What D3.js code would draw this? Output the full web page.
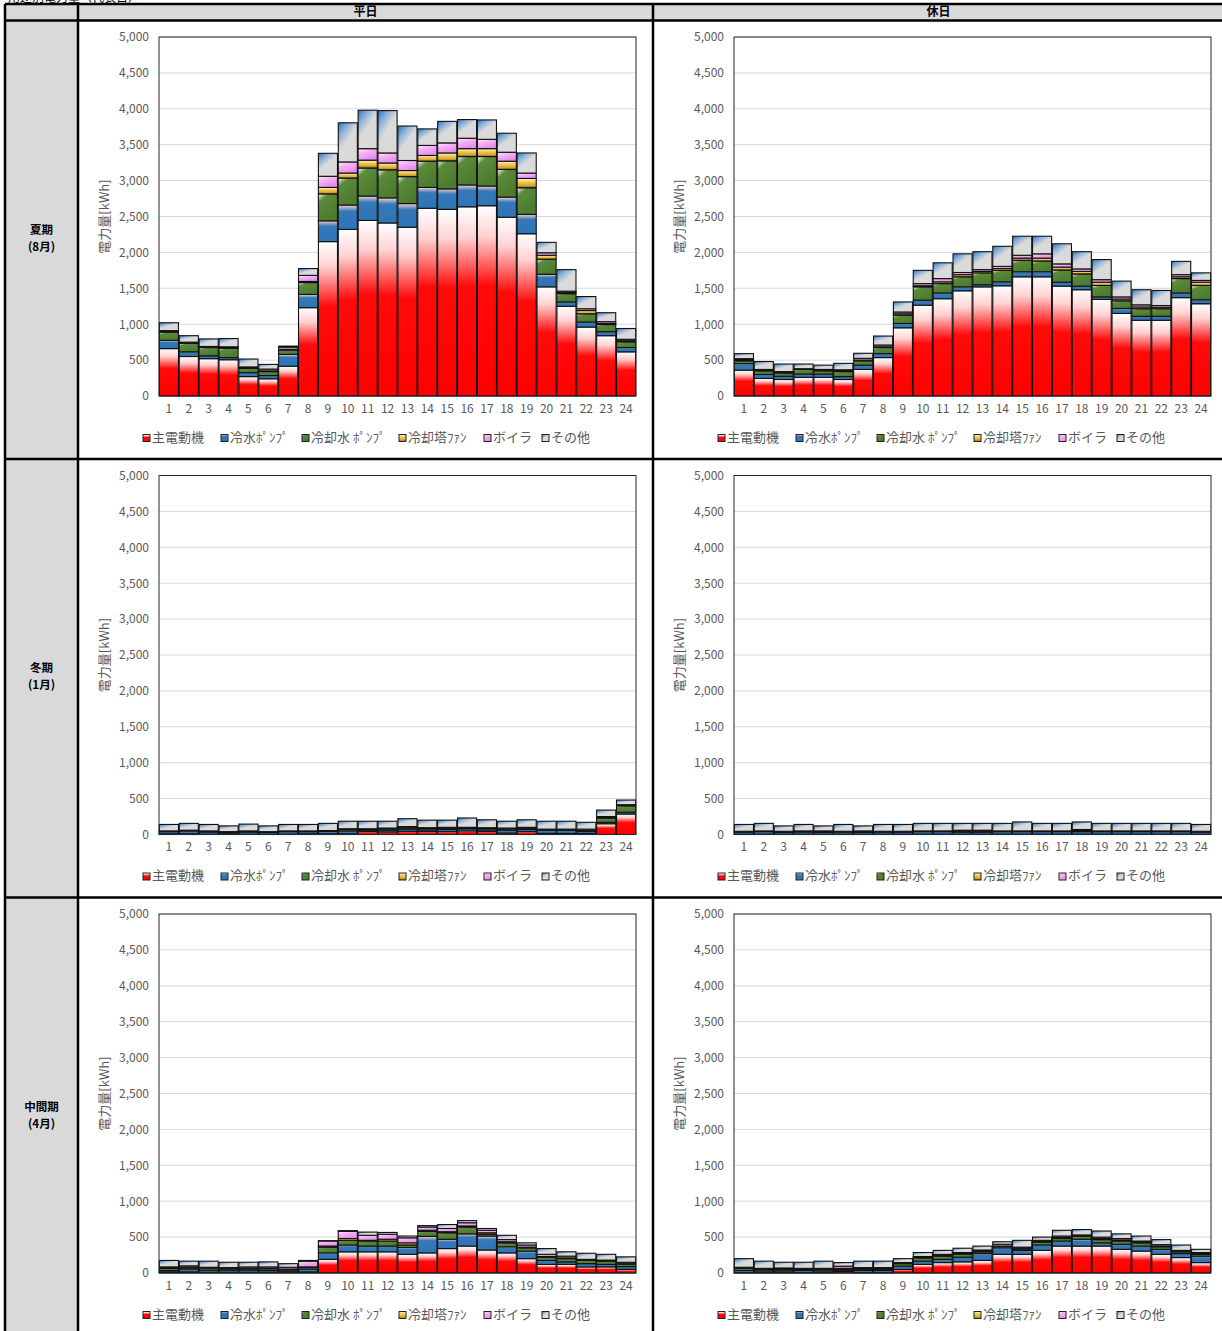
<!DOCTYPE html>
<html>
<head>
<meta charset="utf-8">
<script src="https://cdn.jsdelivr.net/npm/d3@7"></script>
<style>
  html, body { margin: 0; padding: 0; background: #fff; overflow: hidden; }
  svg { display: block; font-family: "Noto Sans CJK JP", "Noto Sans", sans-serif; }
</style>
</head>
<body>
<svg id="chart" width="1222" height="1331"></svg>
<script>
// ---- data ---------------------------------------------------------------
const hourLabels = ["1","2","3","4","5","6","7","8","9","10","11","12",
                    "13","14","15","16","17","18","19","20","21","22","23","24"];
const seriesNames = ["主電動機", "冷水ﾎﾟﾝﾌﾟ", "冷却水 ﾎﾟﾝﾌﾟ", "冷却塔ﾌｧﾝ", "ボイラ", "その他"];
const yTickValues = [0, 500, 1000, 1500, 2000, 2500, 3000, 3500, 4000, 4500, 5000];
const seasonNames = ["夏期", "冬期", "中間期"];
const seasonMonths = ["(8月)", "(1月)", "(4月)"];
const dayTypeNames = ["平日", "休日"];
const pageTitle = "用途別電力量（代表日）";

// each panel: one row per series, in the order of seriesNames, kWh per hour 1..24
const summerWeekday = [
  [660,550,520,505,270,240,415,1230,2150,2320,2445,2410,2350,2615,2600,2635,2650,2490,2260,1520,1250,960,840,615],
  [115,65,40,30,55,45,165,185,290,340,340,350,330,290,285,305,275,280,270,175,60,70,55,60],
  [115,120,115,130,60,55,60,165,375,375,390,390,375,365,390,395,410,385,370,210,115,115,100,80],
  [10,5,5,10,5,10,10,15,90,70,110,95,85,80,110,110,110,115,130,55,15,45,15,15],
  [10,10,10,10,15,25,30,85,155,155,160,140,140,140,140,145,130,125,75,35,20,25,25,20],
  [110,90,105,115,110,65,15,95,320,545,535,590,480,230,300,260,270,265,280,145,300,170,125,150]
];
const summerHoliday = [
  [360,245,230,260,260,230,370,535,950,1265,1355,1465,1520,1535,1660,1660,1530,1480,1345,1150,1055,1055,1370,1285],
  [90,55,45,45,45,40,60,55,60,70,80,55,30,55,70,70,55,50,35,70,55,55,65,55],
  [40,50,45,65,45,70,60,85,115,185,130,140,165,160,160,150,170,170,160,105,105,105,200,200],
  [15,10,10,5,10,10,10,10,20,15,25,30,20,25,30,40,40,35,45,25,25,20,25,45],
  [15,10,10,5,10,15,25,25,25,30,45,30,25,30,40,60,45,35,35,30,30,25,30,25],
  [70,110,105,65,60,90,70,125,140,185,220,260,250,280,265,245,280,240,280,220,210,210,185,105]
];
const winterWeekday = [
  [10,10,5,10,5,5,5,10,10,10,40,35,45,40,40,50,40,20,40,15,15,15,150,285],
  [30,40,30,20,30,25,35,30,35,40,20,25,30,25,30,30,25,40,30,45,45,30,20,25],
  [5,5,10,5,10,5,5,5,5,20,10,20,20,20,20,10,20,20,20,10,10,10,60,90],
  [0,0,0,0,0,0,0,0,0,5,0,5,5,5,5,5,5,5,5,0,0,0,5,5],
  [5,5,5,5,5,5,5,5,5,5,10,5,10,5,5,5,5,5,5,5,5,20,15,10],
  [90,95,90,80,95,80,90,90,100,105,105,95,110,105,100,130,110,95,105,110,110,95,90,65]
];
const winterHoliday = [
  [5,5,5,5,5,5,5,5,5,5,5,5,5,5,5,5,5,5,5,5,5,5,5,5],
  [30,35,25,30,25,30,25,30,30,35,35,30,30,35,35,35,35,35,35,35,35,35,35,30],
  [5,5,5,10,5,5,15,5,5,5,5,5,5,5,5,5,5,10,5,5,5,5,5,5],
  [0,0,0,0,0,0,0,0,0,0,0,5,5,0,0,0,0,5,0,0,0,0,0,0],
  [5,5,10,5,15,5,5,5,5,5,5,15,15,5,5,5,5,15,5,5,5,5,5,5],
  [95,105,75,90,70,95,70,95,95,105,105,95,95,105,125,105,105,105,105,105,105,105,105,95]
];
const springWeekday = [
  [15,15,10,10,10,10,10,15,190,295,295,295,260,280,340,375,320,280,200,120,120,85,85,50],
  [20,40,30,30,30,25,20,40,90,95,80,80,95,230,130,170,195,85,105,55,35,45,35,40],
  [30,20,30,20,20,25,20,25,80,65,70,70,35,70,90,95,25,55,45,45,45,45,45,35],
  [5,5,5,5,5,5,5,5,15,25,10,25,30,15,15,15,20,15,10,10,10,5,5,5],
  [15,20,5,10,20,20,25,80,70,100,70,70,70,45,45,45,35,30,30,30,25,10,10,20],
  [90,65,85,75,65,70,50,10,5,10,45,25,25,20,55,30,25,60,30,80,60,85,80,75]
];
const springHoliday = [
  [5,5,5,5,5,20,5,5,50,120,145,155,175,260,260,315,375,375,375,330,305,260,215,145],
  [30,25,25,30,25,20,30,30,45,45,45,65,95,90,55,75,70,95,45,70,70,70,55,90],
  [30,20,20,15,20,15,20,20,35,45,45,45,25,20,20,40,35,45,45,45,45,35,25,25],
  [5,5,5,5,5,10,5,5,5,5,10,5,10,5,10,10,15,5,15,15,10,10,10,10],
  [10,10,15,10,10,30,15,15,10,15,15,15,15,25,15,15,20,10,20,20,15,20,10,15],
  [120,100,80,85,100,50,90,90,55,55,55,60,55,35,95,45,80,75,85,65,70,70,75,45]
];

const panels = [
  [summerWeekday, summerHoliday],
  [winterWeekday, winterHoliday],
  [springWeekday, springHoliday]
];

// ---- layout -------------------------------------------------------------
const colX = [5, 78, 653, 1224];          // label column | weekday | holiday
const headerTop = 4, headerBottom = 20.5;
const rowTops = [20.5, 459, 897.5];
const plotDX = 81, plotW = 477, plotDY = 16.5, plotH = 359;
const textGray = "#595959";

const svg = d3.select("#chart");
const defs = svg.append("defs");

// fills for each series (shaded like office chart presets)
const fillSpecs = [
  { x2: 0,   y2: 1, stops: [[0, "#ffffff"], [0.16, "#ffd2d2"], [0.42, "#ff0a0a"], [1, "#ff0000"]] },
  { x2: 0,   y2: 1, stops: [[0, "#f6d0d0"], [0.26, "#3478b8"], [1, "#2e75b6"]] },
  { x2: 0.6, y2: 1, stops: [[0, "#ffffff"], [0.25, "#5a8a3a"], [1, "#4c7a2e"]] },
  { x2: 0,   y2: 1, stops: [[0, "#fff8dc"], [0.35, "#f2cc5a"], [0.75, "#d9a832"], [1, "#8a6210"]] },
  { x2: 0.5, y2: 1, stops: [[0, "#fff0ff"], [0.4, "#f6b2f6"], [1, "#e48ceb"]] },
  { x2: 0.7, y2: 1, stops: [[0, "#2e75b6"], [0.28, "#8fb4da"], [0.52, "#dadada"], [1, "#dadada"]] }
];
fillSpecs.forEach((s, i) => {
  const g = defs.append("linearGradient").attr("id", "fill" + i)
    .attr("x1", 0).attr("y1", 0).attr("x2", s.x2).attr("y2", s.y2);
  s.stops.forEach(([o, c]) => g.append("stop").attr("offset", o).attr("stop-color", c));
});

// page title (runs off the top edge)
svg.append("text").attr("x", 8).attr("y", 1.5)
  .attr("font-size", 12).attr("fill", "#000").text(pageTitle);

// table backgrounds
svg.append("rect").attr("x", colX[0]).attr("y", headerTop)
  .attr("width", colX[3] - colX[0]).attr("height", headerBottom - headerTop).attr("fill", "#d9d9d9");
svg.append("rect").attr("x", colX[0]).attr("y", headerBottom)
  .attr("width", colX[1] - colX[0]).attr("height", 1331 - headerBottom).attr("fill", "#d9d9d9");

// header labels
dayTypeNames.forEach((t, c) => {
  svg.append("text").attr("x", (colX[c + 1] + colX[c + 2]) / 2).attr("y", 12.5)
    .attr("text-anchor", "middle").attr("dominant-baseline", "middle")
    .attr("font-size", 12).attr("font-weight", "bold").attr("fill", "#000").text(t);
});

// season labels
seasonNames.forEach((t, r) => {
  const cx = (colX[0] + colX[1]) / 2;
  svg.append("text").attr("x", cx).attr("y", rowTops[r] + 210)
    .attr("text-anchor", "middle").attr("dominant-baseline", "middle")
    .attr("font-size", 11.5).attr("font-weight", "bold").attr("fill", "#000").text(t);
  svg.append("text").attr("x", cx).attr("y", rowTops[r] + 227)
    .attr("text-anchor", "middle").attr("dominant-baseline", "middle")
    .attr("font-size", 11.5).attr("font-weight", "bold").attr("fill", "#000").text(seasonMonths[r]);
});

// ---- charts -------------------------------------------------------------
const keys = d3.range(seriesNames.length);

function drawPanel(values, x0, top) {
  const left = x0 + plotDX, pTop = top + plotDY, bottom = pTop + plotH;
  const g = svg.append("g");

  const x = d3.scaleBand().domain(hourLabels).range([left, left + plotW])
    .paddingInner(0.04).paddingOuter(0.02);
  const y = d3.scaleLinear().domain([0, 5000]).range([bottom, pTop]);

  // gridlines
  g.append("g").selectAll("line").data(yTickValues.filter(v => v > 0)).join("line")
    .attr("x1", left).attr("x2", left + plotW)
    .attr("y1", d => y(d)).attr("y2", d => y(d))
    .attr("stroke", "#d9d9d9").attr("stroke-width", 1);

  // stacked bars
  const rows = hourLabels.map((h, i) => {
    const o = { hour: h };
    keys.forEach(k => { o[k] = values[k][i]; });
    return o;
  });
  const stacked = d3.stack().keys(keys)(rows);
  g.append("g").selectAll("g").data(stacked).join("g")
    .attr("fill", (d, i) => `url(#fill${i})`)
    .selectAll("rect").data(d => d).join("rect")
    .attr("x", d => x(d.data.hour))
    .attr("width", x.bandwidth())
    .attr("y", d => y(d[1]))
    .attr("height", d => Math.max(0, y(d[0]) - y(d[1])))
    .attr("stroke", "#111").attr("stroke-width", 1.1);

  // plot frame
  g.append("rect").attr("x", left).attr("y", pTop).attr("width", plotW).attr("height", plotH)
    .attr("fill", "none").attr("stroke", "#262626").attr("stroke-width", 1);

  // axes
  const yAxis = g.append("g").attr("transform", `translate(${left - 10},0)`)
    .call(d3.axisLeft(y).tickValues(yTickValues).tickFormat(d3.format(",")).tickSize(0).tickPadding(0));
  yAxis.select(".domain").remove();
  yAxis.selectAll("text").attr("font-size", 12).attr("fill", textGray)
    .attr("font-family", "\"Noto Sans CJK JP\", sans-serif");

  const xAxis = g.append("g").attr("transform", `translate(0,${bottom})`)
    .call(d3.axisBottom(x).tickSize(0).tickPadding(8));
  xAxis.select(".domain").remove();
  xAxis.selectAll("text").attr("font-size", 12).attr("fill", textGray)
    .attr("font-family", "\"Noto Sans CJK JP\", sans-serif");

  // axis title
  g.append("text")
    .attr("transform", `translate(${x0 + 27},${pTop + plotH / 2}) rotate(-90)`)
    .attr("text-anchor", "middle").attr("dominant-baseline", "middle")
    .attr("font-size", 13).attr("fill", textGray).text("電力量[kWh]");

  // legend
  const legendOffsets = [65, 143, 224, 321, 406, 464];
  const ly = top + 417.5;
  const lg = g.append("g").selectAll("g").data(seriesNames).join("g")
    .attr("transform", (d, i) => `translate(${x0 + legendOffsets[i]},${ly})`);
  lg.append("rect").attr("x", 0).attr("y", -3.5).attr("width", 7).attr("height", 7)
    .attr("fill", (d, i) => `url(#fill${i})`).attr("stroke", "#222").attr("stroke-width", 1);
  lg.append("text").attr("x", 9).attr("y", 0).attr("dominant-baseline", "middle")
    .attr("font-size", 13).attr("fill", textGray).text(d => d);
}

panels.forEach((row, r) => {
  row.forEach((values, c) => drawPanel(values, colX[c + 1], rowTops[r]));
});

// ---- table rules --------------------------------------------------------
const rule = svg.append("g").attr("stroke", "#000").attr("stroke-width", 2.5);
[headerTop, headerBottom, rowTops[1], rowTops[2]].forEach(yv => {
  rule.append("line").attr("x1", colX[0]).attr("x2", colX[3]).attr("y1", yv).attr("y2", yv);
});
[colX[0], colX[1], colX[2]].forEach(xv => {
  rule.append("line").attr("x1", xv).attr("x2", xv).attr("y1", headerTop).attr("y2", 1331);
});
</script>
</body>
</html>
